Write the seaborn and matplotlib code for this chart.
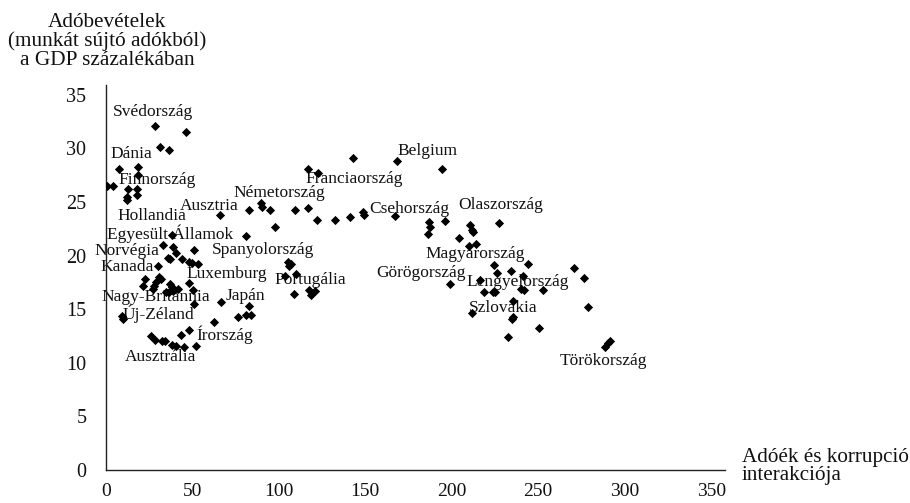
import matplotlib
matplotlib.use("Agg")
import matplotlib.pyplot as plt
import pandas as pd
import seaborn as sns

# Tax-corruption interaction (x) vs. labour tax revenue as % of GDP (y)
interaction = [
    28.5, 46.3, 31.4, 36.6, 7.7, 18.9, 18.5, 0.5, 4.4, 13.1, 18.3, 12.5, 12.2, 17.9,
    66.3, 83.1, 89.9, 90.6, 94.9, 109.4, 116.7, 121.9, 132.3, 141.2, 148.9, 149.1,
    167.4, 98.1, 80.8, 142.9, 116.7, 122.5, 168.6, 194.4,
    105.1, 107.1, 105.9, 110.1, 103.8, 109.1, 117.5, 120.7, 118.6, 66.9, 82.8,
    38.2, 33.0, 39.1, 51.3, 40.7, 36.1, 37.4, 44.0, 48.4, 49.9, 53.6, 30.3, 30.7,
    32.0, 22.6, 21.8, 27.8, 29.3, 27.2, 37.2, 38.2, 42.0, 34.9, 36.5, 38.8, 48.2,
    50.3, 51.3, 76.7, 80.8, 83.9, 9.6, 10.2, 62.3, 48.2, 43.4, 26.0, 28.7, 32.4,
    34.3, 38.2, 40.5, 45.5, 52.3,
    186.7, 187.7, 195.9, 186.3, 210.4, 211.8, 212.4, 227.6, 204.5, 210.1, 214.3,
    224.5, 226.0, 234.0, 244.4, 241.1, 199.2, 216.6, 218.9, 223.6, 225.1, 239.8,
    241.7, 252.6, 235.5, 211.8, 235.5, 235.0, 250.3, 232.4,
    270.6, 276.4, 278.9, 288.9, 291.3, 290.1,
]
revenue = [
    32.1, 31.5, 30.1, 29.8, 28.1, 28.3, 27.5, 26.5, 26.5, 26.2, 26.2, 25.5, 25.2, 25.6,
    23.8, 24.2, 24.9, 24.5, 24.2, 24.2, 24.4, 23.3, 23.3, 23.6, 24.1, 23.8,
    23.7, 22.7, 21.8, 29.1, 28.1, 27.7, 28.8, 28.1,
    19.4, 19.2, 19.0, 18.3, 18.1, 16.4, 16.8, 16.7, 16.3, 15.7, 15.3,
    21.9, 21.0, 20.8, 20.5, 20.2, 19.8, 19.7, 19.7, 19.4, 19.3, 19.2, 19.0, 18.0,
    17.8, 17.8, 17.2, 17.2, 17.5, 16.9, 17.3, 17.1, 16.9, 16.6, 16.6, 16.7, 17.4,
    16.8, 15.5, 14.3, 14.5, 14.5, 14.4, 14.1, 13.8, 13.1, 12.6, 12.5, 12.1, 12.0,
    12.0, 11.7, 11.6, 11.5, 11.6,
    23.1, 22.7, 23.2, 22.0, 22.8, 22.4, 22.2, 23.0, 21.6, 20.9, 21.1,
    19.1, 18.4, 18.6, 19.2, 18.1, 17.3, 17.7, 16.6, 16.6, 16.6, 16.9,
    16.8, 16.8, 15.8, 14.6, 14.3, 14.1, 13.2, 12.4,
    18.8, 17.9, 15.2, 11.5, 12.0, 11.8,
]

countries = [
    "Svédország", "Dánia", "Finnország", "Hollandia", "Ausztria", "Egyesült Államok",
    "Norvégia", "Kanada", "Nagy-Britannia", "Új-Zéland", "Ausztrália", "Írország",
    "Japán", "Luxemburg", "Spanyolország", "Portugália", "Németország",
    "Franciaország", "Belgium", "Csehország", "Olaszország", "Magyarország",
    "Görögország", "Lengyelország", "Szlovákia", "Törökország",
]

# where each country name is written (data coordinates)
label_pos = {
    "Svédország": (27.1, 33.4), "Dánia": (14.6, 29.5), "Finnország": (29.7, 27.0),
    "Hollandia": (26.6, 23.7), "Ausztria": (60.1, 24.6),
    "Egyesült Államok": (37.2, 22.0), "Norvégia": (12.2, 20.4),
    "Kanada": (12.6, 18.9), "Nagy-Britannia": (28.8, 16.1),
    "Új-Zéland": (30.3, 14.6), "Ausztrália": (31.7, 10.5), "Írország": (69.0, 12.6),
    "Japán": (80.9, 16.2), "Luxemburg": (70.2, 18.3), "Spanyolország": (91.0, 20.5),
    "Portugália": (118.2, 17.7), "Németország": (100.3, 25.8),
    "Franciaország": (143.7, 27.1), "Belgium": (185.8, 29.7),
    "Csehország": (175.5, 24.3), "Olaszország": (228.2, 24.7),
    "Magyarország": (213.7, 20.1), "Görögország": (182.5, 18.4),
    "Lengyelország": (238.0, 17.5), "Szlovákia": (229.7, 15.1),
    "Törökország": (287.5, 10.2),
}

x_ticks = [0, 50, 100, 150, 200, 250, 300, 350]
y_ticks = [0, 5, 10, 15, 20, 25, 30, 35]

df = pd.DataFrame({"interakcio": interaction, "bevetel": revenue})

sns.set_style("white")
plt.rcParams["font.family"] = ["Liberation Serif", "DejaVu Serif"]
plt.rcParams["font.size"] = 12.5

fig = plt.figure(figsize=(9.10, 5.03), dpi=100)
ax = fig.add_axes([0.1162, 0.0656, 0.6805, 0.7654])

sns.scatterplot(data=df, x="interakcio", y="bevetel", marker="D", color="black",
                s=22, linewidth=0, ax=ax, zorder=3)

for name in countries:
    lx, ly = label_pos[name]
    ax.text(lx, ly, name, ha="center", va="center", fontsize=12.5, color="#111111",
            zorder=2)

ax.set_xlim(0, 358)
ax.set_ylim(0, 35.9)
ax.set_xticks(x_ticks)
ax.set_yticks(y_ticks)
ax.set_xlabel("")
ax.set_ylabel("")
ax.tick_params(axis="both", direction="out", length=6, width=1.0, color="#222222",
               labelsize=14.5, labelcolor="#111111")
ax.tick_params(axis="x", pad=3, labelsize=14)
ax.tick_params(axis="y", pad=8)
for side in ("top", "right"):
    ax.spines[side].set_visible(False)
for side in ("left", "bottom"):
    ax.spines[side].set_color("#222222")
    ax.spines[side].set_linewidth(1.0)

fig.text(0.1176, 0.9175, "Adóbevételek\n(munkát sújtó adókból)\na GDP százalékában",
         ha="center", va="center", fontsize=15.3, color="#111111", linespacing=0.95)
fig.text(0.8154, 0.0726, "Adóék és korrupció\ninterakciója",
         ha="left", va="center", fontsize=15.2, color="#111111", linespacing=0.95)

fig.savefig("out.png", dpi=100)
